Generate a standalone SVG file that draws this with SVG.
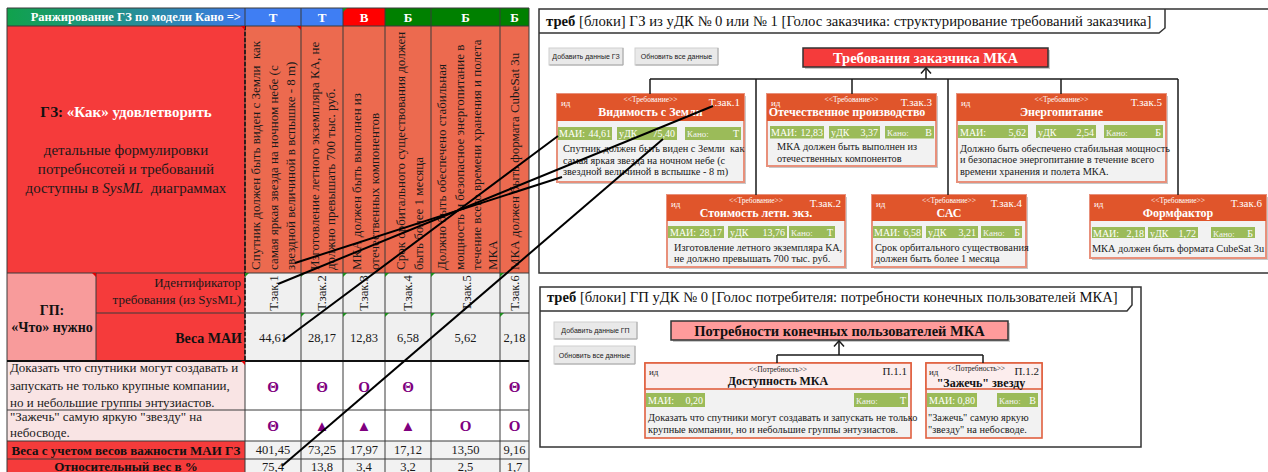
<svg xmlns="http://www.w3.org/2000/svg" width="1268" height="472" viewBox="0 0 1268 472">
  <defs>
    <linearGradient id="rankGrad" x1="0" y1="0" x2="1" y2="0">
      <stop offset="0" stop-color="#10A24C"/>
      <stop offset="0.55" stop-color="#268E98"/>
      <stop offset="1" stop-color="#3E79EC"/>
    </linearGradient>
  </defs>
  <style>
    text{font-family:"Liberation Serif","Times New Roman",serif}
    .grid{stroke:#3a3a3a;stroke-width:1;fill:none}
    .kano{font-size:13px;font-weight:bold;fill:#fff;text-anchor:middle}
    .col{font-size:13px;fill:#1a1a1a}
    .cell{font-size:13px;fill:#1a1a1a}
    .val{font-size:12.5px;fill:#1a1a1a;text-anchor:middle}
    .sym{font-size:15px;font-weight:bold;fill:#7F007F;text-anchor:middle}
    .big{font-size:15px;fill:#1a1a1a;text-anchor:middle}
    .frame{fill:#fff;stroke:#333;stroke-width:1.5}
    .ftitle{fill:#111}
    .btn{fill:#E9E9E9;stroke:#CFCFCF;stroke-width:1}
    .btnsh{stroke:#A8A8A8;stroke-width:1;fill:none}
    .btnt{font-family:"Liberation Sans",Arial,sans-serif;font-size:7px;fill:#222;text-anchor:middle}
    .shadow{fill:#9A9A9A;opacity:.55}
    .rbody{fill:#F2F2F2;stroke:#E8907B;stroke-width:2}
    .rhead{fill:#E0552B}
    .pbody{fill:#F2F2F2;stroke:#E0603F;stroke-width:1.6}
    .phead{fill:#FCEDED;stroke:#E0603F;stroke-width:1.6}
    .chip{fill:#9BBB59}
    .ct{font-size:10px;fill:#fff}
    .ck{font-size:9px;fill:#F4F4F4}
    .cv{font-size:10px;fill:#fff;text-anchor:end}
    .desc{font-size:10.3px;fill:#1a1a1a}
    .rid0{font-size:9px;fill:#fff}
    .rst{font-size:7.5px;fill:#fff;text-anchor:middle}
    .rid{font-size:11px;fill:#fff;text-anchor:end}
    .rt{font-size:12px;font-weight:bold;fill:#fff;text-anchor:middle}
    .pid0{font-size:9px;fill:#222}
    .pst{font-size:7.5px;fill:#222;text-anchor:middle}
    .pid{font-size:11px;fill:#222;text-anchor:end}
    .pt{font-size:12px;font-weight:bold;fill:#111;text-anchor:middle}
    .tree{stroke:#1a1a1a;stroke-width:1.5;fill:none}
    .link{stroke:#000;stroke-width:2;fill:none}
    .tri-g{fill:#1E8C1E}
    .tri-r{fill:#E00000}
  </style>

  <rect width="1268" height="472" fill="#fff"/>

  <!-- ================= Kano ranking table ================= -->
  <g id="kano-table">
    <!-- header row -->
    <rect x="7" y="8" width="238" height="18" fill="url(#rankGrad)"/>
    <text x="241" y="21" font-size="12.5" font-weight="bold" fill="#fff" text-anchor="end">Ранжирование ГЗ по модели Кано =&gt;</text>
    <rect x="245" y="8" width="56" height="18" fill="#3F7EF3"/>
    <rect x="301" y="8" width="42" height="18" fill="#3F7EF3"/>
    <rect x="343" y="8" width="42" height="18" fill="#FF0000"/>
    <rect x="385" y="8" width="46" height="18" fill="#008000"/>
    <rect x="431" y="8" width="69" height="18" fill="#008000"/>
    <rect x="500" y="8" width="29" height="18" fill="#008000"/>
    <text class="kano" x="273" y="21.5">Т</text>
    <text class="kano" x="322" y="21.5">Т</text>
    <text class="kano" x="364" y="21.5">В</text>
    <text class="kano" x="408" y="21.5">Б</text>
    <text class="kano" x="465.5" y="21.5">Б</text>
    <text class="kano" x="514.5" y="21.5">Б</text>

    <!-- "How" block -->
    <rect x="7" y="26" width="238" height="247" fill="#F53B3B"/>
    <text x="126" y="117" font-size="15" font-weight="bold" text-anchor="middle"><tspan fill="#111">ГЗ:</tspan><tspan fill="#fff"> «Как» удовлетворить</tspan></text>
    <text class="big" x="126" y="155">детальные формулировки</text>
    <text class="big" x="126" y="174">потребнсотей и требований</text>
    <text class="big" x="126" y="193" xml:space="preserve">доступны в <tspan font-style="italic">SysML</tspan>  диаграммах</text>

    <!-- requirement columns -->
    <rect x="245" y="26" width="284" height="247" fill="#EC6A4F"/>
    <text class="col" transform="translate(259.5,270) rotate(-90)" xml:space="preserve">Спутник должен быть виден с Земли  как</text>
    <text class="col" transform="translate(278,270) rotate(-90)">самая яркая звезда на ночном небе (с</text>
    <text class="col" transform="translate(295,270) rotate(-90)">звездной величиной в вспышке - 8 m)</text>
    <text class="col" transform="translate(318.5,270) rotate(-90)">Изготовление летного экземпляра КА, не</text>
    <text class="col" transform="translate(334.5,270) rotate(-90)">должно превышать 700 тыс. руб.</text>
    <text class="col" transform="translate(361,270) rotate(-90)">МКА должен быть выполнен из</text>
    <text class="col" transform="translate(379,270) rotate(-90)">отечественных компонентов</text>
    <text class="col" transform="translate(404.5,270) rotate(-90)">Срок орбитального существования должен</text>
    <text class="col" transform="translate(422.5,270) rotate(-90)">быть более 1 месяца</text>
    <text class="col" transform="translate(446,270) rotate(-90)">Должно быть обеспечено стабильная</text>
    <text class="col" transform="translate(464,270) rotate(-90)">мощность и безопасное энергопитание в</text>
    <text class="col" transform="translate(481,270) rotate(-90)">течение всего времени хранения и полета</text>
    <text class="col" transform="translate(496.5,270) rotate(-90)">МКА</text>
    <text class="col" transform="translate(518.5,270) rotate(-90)">МКА должен быть формата CubeSat 3u</text>

    <!-- "What" block -->
    <rect x="7" y="273" width="89" height="88" fill="#F89B9B"/>
    <text x="52" y="315" font-size="14" font-weight="bold" fill="#111" text-anchor="middle">ГП:</text>
    <text x="52" y="332" font-size="14" font-weight="bold" fill="#111" text-anchor="middle">«Что» нужно</text>
    <rect x="96" y="273" width="149" height="88" fill="#F53B3B"/>
    <text class="cell" x="241" y="287" text-anchor="end">Идентификатор</text>
    <text class="cell" x="241" y="304" text-anchor="end">требования (из SysML)</text>
    <text x="242" y="343" font-size="14" font-weight="bold" fill="#111" text-anchor="end">Веса МАИ</text>

    <!-- ids and weights -->
    <rect x="245" y="273" width="284" height="88" fill="#F0F0F0"/>
    <text class="val" transform="translate(277.5,293) rotate(-90)">Т.зак.1</text>
    <text class="val" transform="translate(326,293) rotate(-90)">Т.зак.2</text>
    <text class="val" transform="translate(368,293) rotate(-90)">Т.зак.3</text>
    <text class="val" transform="translate(411.5,293) rotate(-90)">Т.зак.4</text>
    <text class="val" transform="translate(471,293) rotate(-90)">Т.зак.5</text>
    <text class="val" transform="translate(519,293) rotate(-90)">Т.зак.6</text>
    <text class="val" x="273" y="342">44,61</text>
    <text class="val" x="322" y="342">28,17</text>
    <text class="val" x="364" y="342">12,83</text>
    <text class="val" x="408" y="342">6,58</text>
    <text class="val" x="465.5" y="342">5,62</text>
    <text class="val" x="514.5" y="342">2,18</text>

    <!-- needs rows -->
    <rect x="7" y="361" width="238" height="80" fill="#F9E4E4"/>
    <rect x="245" y="361" width="284" height="80" fill="#fff"/>
    <text class="cell" x="10" y="372">Доказать что спутники могут создавать и</text>
    <text class="cell" x="10" y="389.5">запускать не только крупные компании,</text>
    <text class="cell" x="10" y="407">но и небольшие группы энтузиастов.</text>
    <text class="cell" x="10" y="421">"Зажечь" самую яркую "звезду" на</text>
    <text class="cell" x="10" y="437">небосводе.</text>
    <text class="sym" x="273" y="392">Θ</text>
    <text class="sym" x="322" y="392">Θ</text>
    <text class="sym" x="364" y="392">O</text>
    <text class="sym" x="408" y="392">Θ</text>
    <text class="sym" x="514.5" y="392">Θ</text>
    <text class="sym" x="273" y="431">Θ</text>
    <text class="sym" x="322" y="431">▲</text>
    <text class="sym" x="364" y="431">▲</text>
    <text class="sym" x="408" y="431">▲</text>
    <text class="sym" x="465.5" y="431">O</text>
    <text class="sym" x="514.5" y="431">O</text>

    <!-- totals -->
    <rect x="7" y="441" width="238" height="31" fill="#F53B3B"/>
    <rect x="245" y="441" width="284" height="31" fill="#F2F2F2"/>
    <text x="126" y="454.5" font-size="13" font-weight="bold" fill="#111" text-anchor="middle">Веса с учетом весов важности МАИ ГЗ</text>
    <text x="126" y="471" font-size="13" font-weight="bold" fill="#111" text-anchor="middle">Относительный вес в %</text>
    <text class="val" x="273" y="454">401,45</text>
    <text class="val" x="322" y="454">73,25</text>
    <text class="val" x="364" y="454">17,97</text>
    <text class="val" x="408" y="454">17,12</text>
    <text class="val" x="465.5" y="454">13,50</text>
    <text class="val" x="514.5" y="454">9,16</text>
    <text class="val" x="273" y="471">75,4</text>
    <text class="val" x="322" y="471">13,8</text>
    <text class="val" x="364" y="471">3,4</text>
    <text class="val" x="408" y="471">3,2</text>
    <text class="val" x="465.5" y="471">2,5</text>
    <text class="val" x="514.5" y="471">1,7</text>

    <!-- grid -->
    <path class="grid" d="M7 8V472M245 8V472M301 8V472M343 8V472M385 8V472M431 8V472M500 8V472M529 8V472M96 273V361
                          M7 8H529M7 26H529M7 273H529M96 313H529M7 410H529M7 441H529M7 459H529"/>
    <path d="M7 361H529" stroke="#111" stroke-width="2"/>
    <!-- selection marquee -->
    <path d="M245 26V361M7 361H96" stroke="#111" stroke-width="1.5" stroke-dasharray="4 2" fill="none"/>

    <!-- cell markers -->
    <path class="tri-r" d="M241 26h4v4z"/>
    <path class="tri-r" d="M297 26h4v4z"/>
    <path class="tri-r" d="M92 273h4v4z"/>
    <path class="tri-r" d="M241 361h4v4z"/>
    <path class="tri-g" d="M343 8h4l-4 4z"/>
    <path class="tri-g" d="M245 273h4l-4 4zM301 273h4l-4 4zM343 273h4l-4 4zM385 273h4l-4 4zM431 273h4l-4 4zM500 273h4l-4 4z"/>
    <path class="tri-g" d="M301 313h4l-4 4zM343 313h4l-4 4zM385 313h4l-4 4zM431 313h4l-4 4zM500 313h4l-4 4z"/>
  </g>

  <!-- ================= Customer requirements frame ================= -->
  <g id="frame-gz">
    <rect class="frame" x="539" y="9" width="740" height="264"/>
    <path d="M539 33H1159L1165 28V9" fill="none" stroke="#333" stroke-width="1.5"/>
    <text class="ftitle" x="546" y="26" font-size="14.7"><tspan font-weight="bold">треб</tspan> [блоки] ГЗ из уДК № 0 или № 1 [Голос заказчика: структурирование требований заказчика]</text>
  </g>

  <g id="btn-add-gz">
    <rect class="btn" x="549" y="48" width="74" height="17"/>
    <path class="btnsh" d="M549.5 65H623V48"/>
    <text class="btnt" x="586" y="59">Добавить данные ГЗ</text>
  </g>
  <g id="btn-refresh-gz">
    <rect class="btn" x="635" y="48" width="83" height="17"/>
    <path class="btnsh" d="M635.5 65H718V48"/>
    <text class="btnt" x="676.5" y="59">Обновить все данные</text>
  </g>

  <g id="req-root">
    <rect class="shadow" x="805" y="50" width="245" height="19"/>
    <rect x="803" y="48" width="245" height="19" fill="#F53B3B" stroke="#333" stroke-width="1.5"/>
    <text x="925.5" y="63" font-size="14.5" font-weight="bold" fill="#fff" text-anchor="middle">Требования заказчика МКА</text>
  </g>

  <g id="req-1">
    <rect class="shadow" x="559" y="96" width="187" height="88"/>
    <rect class="rbody" x="557" y="94" width="187" height="88"/>
    <rect class="rhead" x="557" y="94" width="187" height="27"/>
    <text class="rid0" x="561" y="105.5">ид</text>
    <text class="rst" x="650.5" y="101.5">&lt;&lt;Требование&gt;&gt;</text>
    <text class="rid" x="740" y="105.5">Т.зак.1</text>
    <text class="rt" x="650.5" y="116">Видимость с Земли</text>
    <rect class="chip" x="558" y="127" width="54" height="13"/>
    <rect class="chip" x="617" y="127" width="60" height="13"/>
    <rect class="chip" x="685" y="127" width="56" height="13"/>
    <text class="ct" x="559" y="137">МАИ:</text><text class="cv" x="611" y="137">44,61</text>
    <text class="ct" x="619" y="137">уДК</text><text class="cv" x="675" y="137">75,40</text>
    <text class="ck" x="687" y="137">Кано:</text><text class="cv" x="739" y="137">Т</text>
    <text class="desc" x="563" y="152" xml:space="preserve">Спутник должен быть виден с Земли  как</text>
    <text class="desc" x="563" y="163.5">самая яркая звезда на ночном небе (с</text>
    <text class="desc" x="563" y="175">звездной величиной в вспышке - 8 m)</text>
  </g>

  <g id="req-3">
    <rect class="shadow" x="769" y="96" width="169" height="72"/>
    <rect class="rbody" x="767" y="94" width="169" height="72"/>
    <rect class="rhead" x="767" y="94" width="169" height="27"/>
    <text class="rid0" x="771" y="105.5">ид</text>
    <text class="rst" x="851.5" y="101.5">&lt;&lt;Требование&gt;&gt;</text>
    <text class="rid" x="932" y="105.5">Т.зак.3</text>
    <text class="rt" x="847" y="116">Отечественное производство</text>
    <rect class="chip" x="770" y="126" width="54" height="12.5"/>
    <rect class="chip" x="829" y="126" width="51" height="12.5"/>
    <rect class="chip" x="885" y="126" width="49" height="12.5"/>
    <text class="ct" x="771" y="136">МАИ:</text><text class="cv" x="823" y="136">12,83</text>
    <text class="ct" x="831" y="136">уДК</text><text class="cv" x="878" y="136">3,37</text>
    <text class="ck" x="887" y="136">Кано:</text><text class="cv" x="932" y="136">В</text>
    <text class="desc" x="777" y="150">МКА должен быть выполнен из</text>
    <text class="desc" x="777" y="161.5">отечественных компонентов</text>
  </g>

  <g id="req-5">
    <rect class="shadow" x="959" y="96" width="209" height="88"/>
    <rect class="rbody" x="957" y="94" width="209" height="88"/>
    <rect class="rhead" x="957" y="94" width="209" height="27"/>
    <text class="rid0" x="961" y="105.5">ид</text>
    <text class="rst" x="1061.5" y="101.5">&lt;&lt;Требование&gt;&gt;</text>
    <text class="rid" x="1162" y="105.5">Т.зак.5</text>
    <text class="rt" x="1061.5" y="116">Энергопитание</text>
    <rect class="chip" x="958" y="125" width="70" height="13"/>
    <rect class="chip" x="1036" y="125" width="60" height="13"/>
    <rect class="chip" x="1104" y="125" width="59" height="13"/>
    <text class="ct" x="960" y="135.5">МАИ:</text><text class="cv" x="1026" y="135.5">5,62</text>
    <text class="ct" x="1038" y="135.5">уДК</text><text class="cv" x="1094" y="135.5">2,54</text>
    <text class="ck" x="1106" y="135.5">Кано:</text><text class="cv" x="1161" y="135.5">Б</text>
    <text class="desc" x="960" y="151.5">Должно быть обеспечено стабильная мощность</text>
    <text class="desc" x="960" y="163">и безопасное энергопитание в течение всего</text>
    <text class="desc" x="960" y="174.5">времени хранения и полета МКА.</text>
  </g>

  <g id="req-2">
    <rect class="shadow" x="669" y="197" width="178" height="72"/>
    <rect class="rbody" x="667" y="195" width="178" height="72"/>
    <rect class="rhead" x="667" y="195" width="178" height="26"/>
    <text class="rid0" x="671" y="206.5">ид</text>
    <text class="rst" x="756" y="202.5">&lt;&lt;Требование&gt;&gt;</text>
    <text class="rid" x="841" y="206.5">Т.зак.2</text>
    <text class="rt" x="756" y="217">Стоимость летн. экз.</text>
    <rect class="chip" x="668" y="226" width="56" height="12"/>
    <rect class="chip" x="728" y="226" width="59" height="12"/>
    <rect class="chip" x="789" y="226" width="46" height="12"/>
    <text class="ct" x="670" y="236">МАИ:</text><text class="cv" x="722" y="236">28,17</text>
    <text class="ct" x="730" y="236">уДК</text><text class="cv" x="785" y="236">13,76</text>
    <text class="ck" x="791" y="236">Кано:</text><text class="cv" x="833" y="236">Т</text>
    <text class="desc" x="674" y="250.5">Изготовление летного экземпляра КА,</text>
    <text class="desc" x="674" y="262">не должно превышать 700 тыс. руб.</text>
  </g>

  <g id="req-4">
    <rect class="shadow" x="874" y="197" width="154" height="72"/>
    <rect class="rbody" x="872" y="195" width="154" height="72"/>
    <rect class="rhead" x="872" y="195" width="154" height="26"/>
    <text class="rid0" x="876" y="206.5">ид</text>
    <text class="rst" x="949" y="202.5">&lt;&lt;Требование&gt;&gt;</text>
    <text class="rid" x="1022" y="206.5">Т.зак.4</text>
    <text class="rt" x="949" y="217">САС</text>
    <rect class="chip" x="873" y="226" width="49" height="12"/>
    <rect class="chip" x="926" y="226" width="52" height="12"/>
    <rect class="chip" x="981" y="226" width="41" height="12"/>
    <text class="ct" x="874" y="236">МАИ:</text><text class="cv" x="921" y="236">6,58</text>
    <text class="ct" x="928" y="236">уДК</text><text class="cv" x="976" y="236">3,21</text>
    <text class="ck" x="983" y="236">Кано:</text><text class="cv" x="1020" y="236">Б</text>
    <text class="desc" x="875" y="250.5">Срок орбитального существования</text>
    <text class="desc" x="875" y="262">должен быть более 1 месяца</text>
  </g>

  <g id="req-6">
    <rect class="shadow" x="1092" y="197" width="176" height="63"/>
    <rect class="rbody" x="1090" y="195" width="176" height="63"/>
    <rect class="rhead" x="1090" y="195" width="176" height="26"/>
    <text class="rid0" x="1094" y="206.5">ид</text>
    <text class="rst" x="1178" y="202.5">&lt;&lt;Требование&gt;&gt;</text>
    <text class="rid" x="1262" y="206.5">Т.зак.6</text>
    <text class="rt" x="1178" y="217">Формфактор</text>
    <rect class="chip" x="1092" y="227" width="53" height="11"/>
    <rect class="chip" x="1148" y="227" width="50" height="11"/>
    <rect class="chip" x="1211" y="227" width="44" height="11"/>
    <text class="ct" x="1093" y="236.5">МАИ:</text><text class="cv" x="1144" y="236.5">2,18</text>
    <text class="ct" x="1150" y="236.5">уДК</text><text class="cv" x="1196" y="236.5">1,72</text>
    <text class="ck" x="1213" y="236.5">Кано:</text><text class="cv" x="1253" y="236.5">Б</text>
    <text class="desc" x="1178" y="251.5" text-anchor="middle">МКА должен быть формата CubeSat 3u</text>
  </g>

  <!-- ================= End-user needs frame ================= -->
  <g id="frame-gp">
    <rect class="frame" x="540" y="287" width="601" height="160"/>
    <path d="M540 311H1127L1132 305V287" fill="none" stroke="#333" stroke-width="1.5"/>
    <text class="ftitle" x="547" y="302" font-size="14.6"><tspan font-weight="bold">треб</tspan> [блоки] ГП уДК № 0 [Голос потребителя: потребности конечных пользователей МКА]</text>
  </g>

  <g id="btn-add-gp">
    <rect class="btn" x="554" y="322" width="83" height="17"/>
    <path class="btnsh" d="M554.5 339H637V322"/>
    <text class="btnt" x="595.5" y="333">Добавить данные ГП</text>
  </g>
  <g id="btn-refresh-gp">
    <rect class="btn" x="554" y="346" width="81" height="18"/>
    <path class="btnsh" d="M554.5 364H635V346"/>
    <text class="btnt" x="594.5" y="357.5">Обновить все данные</text>
  </g>

  <g id="need-root">
    <rect class="shadow" x="673" y="323" width="337" height="19"/>
    <rect x="671" y="321" width="337" height="19" fill="#FF9B9B" stroke="#333" stroke-width="1.5"/>
    <text x="839.5" y="336" font-size="14.5" font-weight="bold" fill="#111" text-anchor="middle">Потребности конечных пользователей МКА</text>
  </g>

  <g id="need-1">
    <rect class="pbody" x="645" y="363" width="266" height="75"/>
    <rect class="phead" x="645" y="363" width="266" height="26"/>
    <text class="pid0" x="649" y="374.5">ид</text>
    <text class="pst" x="778" y="372">&lt;&lt;Потребность&gt;&gt;</text>
    <text class="pid" x="907" y="375">П.1.1</text>
    <text class="pt" x="778" y="384.5">Доступность МКА</text>
    <rect class="chip" x="646" y="393" width="59" height="14"/>
    <rect class="chip" x="854" y="393" width="54" height="14"/>
    <text class="ct" x="648" y="404">МАИ:</text><text class="cv" x="703" y="404">0,20</text>
    <text class="ck" x="856" y="404">Кано:</text><text class="cv" x="906" y="404">Т</text>
    <text class="desc" x="648" y="421">Доказать что спутники могут создавать и запускать не только</text>
    <text class="desc" x="648" y="433">крупные компании, но и небольшие группы энтузиастов.</text>
  </g>

  <g id="need-2">
    <rect class="pbody" x="926" y="363" width="116" height="75"/>
    <rect class="phead" x="926" y="363" width="116" height="26"/>
    <text class="pid0" x="929" y="374.5">ид</text>
    <text class="pst" x="976" y="371" font-size="7">&lt;&lt;Потребность&gt;&gt;</text>
    <text class="pid" x="1039" y="374.5" font-size="10.5">П.1.2</text>
    <text class="pt" x="981" y="386.5">"Зажечь" звезду</text>
    <rect class="chip" x="927" y="393" width="50" height="14"/>
    <rect class="chip" x="997" y="393" width="41" height="14"/>
    <text class="ct" x="929" y="404">МАИ:</text><text class="cv" x="975" y="404">0,80</text>
    <text class="ck" x="999" y="404">Кано:</text><text class="cv" x="1036" y="404">В</text>
    <text class="desc" x="928" y="421">"Зажечь" самую яркую</text>
    <text class="desc" x="928" y="433">"звезду" на небосводе.</text>
  </g>

  <!-- ================= connectors ================= -->
  <g id="connectors">
    <!-- containment tree, customer requirements -->
    <path class="tree" d="M926 79V68M650 79H1178M650 79V94M756 79V195M852 79V94M948 79V195M1061 79V94M1178 79V195"/>
    <path class="tree" d="M921 73.5L926 67.8L931 73.5"/>
    <!-- containment tree, end-user needs -->
    <path class="tree" d="M839 355V341M777 355H983M777 355V363M983 355V363"/>
    <path class="tree" d="M834 346.5L839 340.8L844 346.5"/>
    <!-- table cells linked to requirement fields -->
    <path class="link" d="M278 284L713 106"/>
    <path class="link" d="M283 341L558 136"/>
    <path class="link" d="M295 263L562 177"/>
    <path class="link" d="M282 466L663 139"/>
  </g>
</svg>
